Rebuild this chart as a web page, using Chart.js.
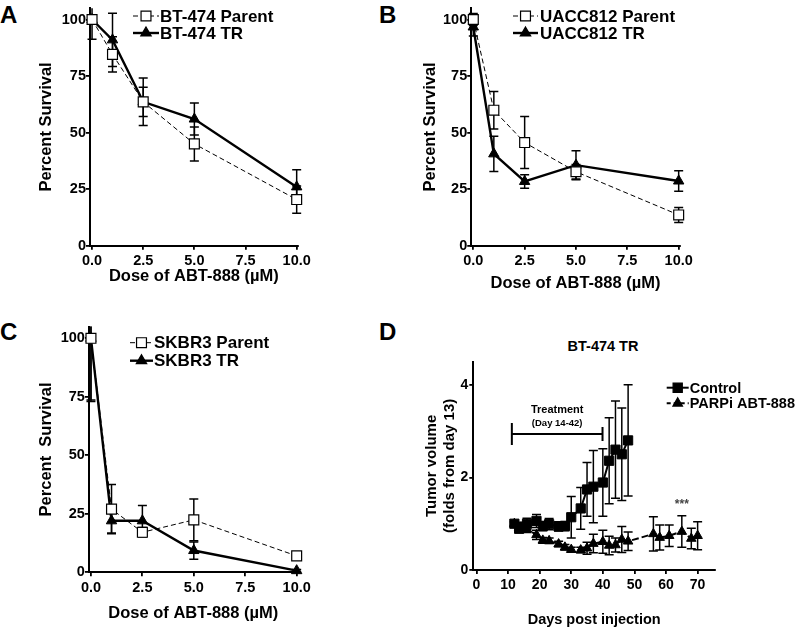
<!DOCTYPE html>
<html>
<head>
<meta charset="utf-8">
<script src="https://cdn.jsdelivr.net/npm/chart.js@4.4.1/dist/chart.umd.min.js"></script>
<style>
  body { margin: 0; background: #fff; width: 800px; height: 629px; overflow: hidden; position: relative;
         font-family: "Liberation Sans", Arial, sans-serif; }
  canvas { position: absolute; }
  .letter { position: absolute; font-weight: bold; font-size: 24px; line-height: 24px; color: #000; }
  .title { position: absolute; font-weight: bold; font-size: 14.5px; line-height: 15px; text-align: center; width: 200px; }
</style>
</head>
<body>
<div class="letter" style="left:0px;top:3px">A</div>
<div class="letter" style="left:379px;top:3px">B</div>
<div class="letter" style="left:0px;top:320px">C</div>
<div class="letter" style="left:379px;top:320px">D</div>
<div class="title" style="left:503px;top:339px">BT-474 TR</div>

<canvas id="chartA" style="left:0px;top:0px" width="330" height="300"></canvas>
<canvas id="chartB" style="left:380px;top:0px" width="330" height="300"></canvas>
<canvas id="chartC" style="left:0px;top:310px" width="330" height="319"></canvas>
<canvas id="chartD" style="left:400px;top:330px" width="400" height="299"></canvas>

<script>
// doses (µM) shared by panels A-C
const doses = [0, 1, 2.5, 5, 10];

// A: BT-474
const bt474Parent = [100, 84.6, 63.6, 45.0, 20.4];
const bt474ParentErr = [8.7, 7.8, 6.5, 7.5, 6.0];
const bt474TR = [100, 91.0, 63.6, 56.0, 26.0];
const bt474TRErr = [0, 11.8, 10.5, 7.1, 7.6];

// B: UACC812
const uaccParent = [100, 59.9, 45.6, 32.7, 13.6];
const uaccParentErr = [2.7, 8.3, 11.5, 3.2, 3.3];
const uaccTR = [96.7, 40.6, 28.4, 35.6, 28.6];
const uaccTRErr = [4.0, 7.8, 3.0, 6.4, 4.5];

// C: SKBR3
const skbrParent = [100, 27.0, 17.1, 22.4, 7.0];
const skbrParentErr = [26.4, 10.5, 2.0, 8.9, 1.0];
const skbrTR = [100, 22.0, 22.0, 9.3, 0.7];
const skbrTRErr = [27.0, 5.2, 6.5, 3.7, 0.5];

// D: xenograft, days post injection
const controlDays = [12, 13.5, 15, 16, 19, 21, 23, 26, 28, 30, 33, 35, 37, 40, 42, 44, 46, 48];
const controlVol = [1.0, 0.89, 0.93, 1.0, 1.06, 0.95, 0.99, 0.94, 0.95, 1.14, 1.33, 1.74, 1.8, 1.89, 2.36, 2.6, 2.5, 2.8];
const controlErr = [0.04, 0.07, 0.1, 0.12, 0.14, 0.1, 0.12, 0.1, 0.1, 0.45, 0.45, 0.58, 0.78, 0.73, 0.93, 1.05, 1.0, 1.2];
const parpDays = [12, 13.5, 15, 16, 19, 21, 23, 26, 28, 30, 33, 35, 37, 40, 42, 44, 46, 48, 56, 58, 61, 65, 68, 70];
const parpVol = [1.0, 0.92, 0.9, 0.88, 0.76, 0.64, 0.63, 0.56, 0.49, 0.44, 0.43, 0.47, 0.57, 0.61, 0.53, 0.54, 0.66, 0.62, 0.78, 0.7, 0.74, 0.83, 0.68, 0.74];
const parpErr = [0.04, 0.06, 0.07, 0.07, 0.1, 0.06, 0.06, 0.06, 0.06, 0.05, 0.06, 0.13, 0.2, 0.25, 0.2, 0.15, 0.28, 0.2, 0.37, 0.27, 0.23, 0.34, 0.22, 0.3];
const treatmentSpan = [11.2, 39.9];
const treatmentLevel = 2.94;
const starsAt = [65, 1.48];

const FONT = '"Liberation Sans", Arial, sans-serif';
Chart.defaults.font.family = FONT;
Chart.defaults.color = '#000';
Chart.defaults.animation = false;

function pts(xs, ys) {
  return xs.map((x, i) => ({ x, y: ys[i] }));
}

function drawMarker(ctx, style, x, y, r, fill) {
  ctx.beginPath();
  if (style === 'rect') {
    const s = r * Math.SQRT1_2;
    ctx.rect(x - s, y - s, 2 * s, 2 * s);
  } else {
    ctx.moveTo(x, y - r);
    ctx.lineTo(x + r * 0.866, y + r * 0.5);
    ctx.lineTo(x - r * 0.866, y + r * 0.5);
    ctx.closePath();
  }
  ctx.fillStyle = fill;
  ctx.fill();
  ctx.lineWidth = 1.2;
  ctx.strokeStyle = '#000';
  ctx.stroke();
}

const errorBars = {
  id: 'errorBars',
  beforeDatasetsDraw(chart) {
    const { ctx, chartArea, scales: { x, y } } = chart;
    ctx.save();
    ctx.beginPath();
    ctx.rect(chartArea.left - 10, chartArea.top, chartArea.width + 20, chartArea.height + 10);
    ctx.clip();
    chart.data.datasets.forEach(ds => {
      if (!ds.errors) return;
      const cap = ds.capSize || 4.5;
      ctx.strokeStyle = '#000';
      ctx.lineWidth = 1.5;
      ds.data.forEach((p, i) => {
        const e = ds.errors[i];
        if (!e) return;
        const px = x.getPixelForValue(p.x);
        const top = y.getPixelForValue(p.y + e);
        const bot = y.getPixelForValue(p.y - e);
        ctx.beginPath();
        ctx.moveTo(px, top); ctx.lineTo(px, bot);
        ctx.moveTo(px - cap, top); ctx.lineTo(px + cap, top);
        ctx.moveTo(px - cap, bot); ctx.lineTo(px + cap, bot);
        ctx.stroke();
      });
    });
    ctx.restore();
  }
};

const insideLegend = {
  id: 'insideLegend',
  afterDraw(chart, args, opts) {
    const { ctx } = chart;
    ctx.save();
    chart.data.datasets.forEach((ds, i) => {
      const y = opts.y + i * opts.rowGap;
      ctx.strokeStyle = '#000';
      ctx.lineWidth = ds.borderWidth;
      ctx.setLineDash(ds.legendDash || ds.borderDash || []);
      ctx.beginPath();
      ctx.moveTo(opts.x, y);
      ctx.lineTo(opts.x + opts.sample, y);
      ctx.stroke();
      ctx.setLineDash([]);
      drawMarker(ctx, ds.pointStyle, opts.x + opts.sample / 2, y, ds.pointRadius, ds.pointBackgroundColor);
      ctx.fillStyle = '#000';
      ctx.font = `bold ${opts.size}px ${FONT}`;
      ctx.textBaseline = 'middle';
      ctx.fillText(ds.label, opts.x + opts.sample + opts.textGap, y + 1);
    });
    ctx.restore();
  }
};

const treatmentNote = {
  id: 'treatmentNote',
  afterDatasetsDraw(chart) {
    const { ctx, scales: { x, y } } = chart;
    const x0 = x.getPixelForValue(treatmentSpan[0]);
    const x1 = x.getPixelForValue(treatmentSpan[1]);
    const yy = y.getPixelForValue(treatmentLevel);
    ctx.save();
    ctx.strokeStyle = '#000';
    ctx.lineWidth = 2;
    ctx.beginPath();
    ctx.moveTo(x0, yy); ctx.lineTo(x1, yy);
    ctx.moveTo(x0, yy - 11); ctx.lineTo(x0, yy + 11);
    ctx.moveTo(x1, yy - 7); ctx.lineTo(x1, yy + 7);
    ctx.stroke();
    ctx.fillStyle = '#000';
    ctx.textAlign = 'center';
    ctx.textBaseline = 'middle';
    const mid = (x0 + x1) / 2;
    ctx.font = `bold 11px ${FONT}`;
    ctx.fillText('Treatment', mid, yy - 24);
    ctx.font = `bold 9.5px ${FONT}`;
    ctx.fillText('(Day 14-42)', mid, yy - 10.5);
    ctx.fillStyle = '#444';
    ctx.font = `bold 12px ${FONT}`;
    ctx.fillText('***', x.getPixelForValue(starsAt[0]), y.getPixelForValue(starsAt[1]) + 3);
    ctx.restore();
  }
};

function parentSet(label, xs, ys, err) {
  return {
    label, data: pts(xs, ys), errors: err, clip: false,
    borderColor: '#000', borderWidth: 1, borderDash: [5, 3],
    pointStyle: 'rect', pointRadius: 7, pointBackgroundColor: '#fff',
    pointBorderColor: '#000', pointBorderWidth: 1.2
  };
}

function trSet(label, xs, ys, err) {
  return {
    label, data: pts(xs, ys), errors: err, clip: false,
    borderColor: '#000', borderWidth: 2.4,
    pointStyle: 'triangle', pointRadius: 6, pointBackgroundColor: '#000',
    pointBorderColor: '#000', pointBorderWidth: 1
  };
}

function axisCommon() {
  return {
    border: { color: '#000', width: 2 },
    grid: { drawOnChartArea: false, drawTicks: true, tickLength: 4, color: '#000', lineWidth: 1.8 }
  };
}

function doseChart(id, sets, p) {
  return new Chart(document.getElementById(id), {
    type: 'line',
    data: { datasets: sets },
    plugins: [errorBars, insideLegend],
    options: {
      responsive: false,
      layout: { padding: { left: 0, top: p.top, right: p.right, bottom: 0 } },
      plugins: {
        legend: { display: false },
        tooltip: { enabled: false },
        insideLegend: p.legend
      },
      scales: {
        x: {
          type: 'linear', min: -0.1, max: 10.05,
          ...axisCommon(),
          afterFit: s => { s.height = p.xHeight; s.paddingLeft = 0; s.paddingRight = 0; },
          ticks: { stepSize: 2.5, includeBounds: false, padding: 3, maxRotation: 0, autoSkip: false,
                   font: { size: 14.5, weight: 'bold' }, callback: v => v.toFixed(1) },
          title: { display: true, text: 'Dose of ABT-888 (\u00b5M)', font: { size: 16.5, weight: 'bold' },
                   padding: { top: 0, bottom: p.xTitlePad } }
        },
        y: {
          type: 'linear', min: 0, max: 105,
          ...axisCommon(),
          afterFit: s => { s.width = p.yWidth; s.paddingTop = 0; s.paddingBottom = 0; },
          ticks: { stepSize: 25, includeBounds: false, padding: 0, font: { size: 14.5, weight: 'bold' } },
          title: { display: true, text: p.yTitle, font: { size: 16.5, weight: 'bold' },
                   padding: { top: p.yTitlePad, bottom: 0 } }
        }
      }
    }
  });
}

doseChart('chartA', [
  parentSet('BT-474 Parent', doses, bt474Parent, bt474ParentErr),
  trSet('BT-474 TR', doses, bt474TR, bt474TRErr)
], { top: 0.6, right: 32.3, yWidth: 90, xHeight: 54.3, xTitlePad: 13.4, yTitlePad: 36.8,
     yTitle: 'Percent Survival', legend: { x: 133, y: 16, rowGap: 17, sample: 26, textGap: 1, size: 17 } });

doseChart('chartB', [
  parentSet('UACC812 Parent', doses, uaccParent, uaccParentErr),
  trSet('UACC812 TR', doses, uaccTR, uaccTRErr)
], { top: 0.6, right: 30.3, yWidth: 91.25, xHeight: 54.3, xTitlePad: 6.4, yTitlePad: 40.1,
     yTitle: 'Percent Survival', legend: { x: 133, y: 16, rowGap: 17, sample: 25, textGap: 2, size: 17 } });

doseChart('chartC', [
  parentSet('SKBR3 Parent', doses, skbrParent, skbrParentErr),
  trSet('SKBR3 TR', doses, skbrTR, skbrTRErr)
], { top: 16.6, right: 32.3, yWidth: 88.9, xHeight: 56.7, xTitlePad: 6.1, yTitlePad: 36.8,
     yTitle: 'Percent  Survival', legend: { x: 130, y: 32.7, rowGap: 18, sample: 23, textGap: 1, size: 17 } });

new Chart(document.getElementById('chartD'), {
  type: 'line',
  data: {
    datasets: [
      {
        label: 'Control', data: pts(controlDays, controlVol), errors: controlErr, capSize: 4.5, clip: false,
        borderColor: '#000', borderWidth: 2,
        pointStyle: 'rect', pointRadius: 6.5, pointBackgroundColor: '#000',
        pointBorderColor: '#000', pointBorderWidth: 1
      },
      {
        label: 'PARPi ABT-888', data: pts(parpDays, parpVol), errors: parpErr, capSize: 4.5, clip: false,
        borderColor: '#000', borderWidth: 2, borderDash: [7, 3], legendDash: [4, 3],
        pointStyle: 'triangle', pointRadius: 5.5, pointBackgroundColor: '#000',
        pointBorderColor: '#000', pointBorderWidth: 1
      }
    ]
  },
  plugins: [errorBars, insideLegend, treatmentNote],
  options: {
    responsive: false,
    layout: { padding: { left: 0, top: 31.7, right: 85, bottom: 0 } },
    plugins: {
      legend: { display: false },
      tooltip: { enabled: false },
      insideLegend: { x: 266.7, y: 57.7, rowGap: 15.6, sample: 22, textGap: 1, size: 14.5 }
    },
    scales: {
      x: {
        type: 'linear', min: -1, max: 75.5,
        ...axisCommon(),
        afterFit: s => { s.height = 59; s.paddingLeft = 0; s.paddingRight = 0; },
        ticks: { stepSize: 10, includeBounds: false, padding: 3, maxRotation: 0, autoSkip: false,
                 font: { size: 14, weight: 'bold' } },
        title: { display: true, text: 'Days post injection', font: { size: 14.5, weight: 'bold' },
                 padding: { top: 0, bottom: 0.3 } }
      },
      y: {
        type: 'linear', min: 0, max: 4.5,
        ...axisCommon(),
        afterFit: s => { s.width = 73.3; s.paddingTop = 0; s.paddingBottom = 0; },
        ticks: { stepSize: 2, includeBounds: false, padding: 1, font: { size: 14, weight: 'bold' } },
        title: { display: true, text: ['Tumor volume', '(folds from day 13)'],
                 font: { size: 15, weight: 'bold', lineHeight: 1.22 }, padding: { top: 22.5, bottom: 0 } }
      }
    }
  }
});
</script>
</body>
</html>
